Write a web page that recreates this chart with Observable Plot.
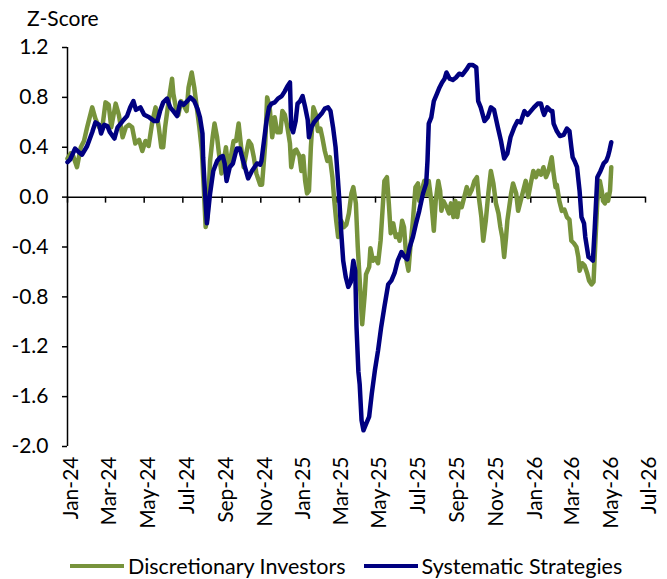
<!DOCTYPE html>
<html><head><meta charset="utf-8">
<script src="https://cdn.jsdelivr.net/npm/d3@7"></script>
<script src="https://cdn.jsdelivr.net/npm/@observablehq/plot@0.6"></script>
<style>
body{margin:0;background:#fff;font-family:Lato,sans-serif;color:#000;}
#title{height:30px;box-sizing:border-box;padding:7px 0 0 27px;font-size:21px;line-height:21px;}
#chart svg{display:block;}
#legend{height:39px;box-sizing:border-box;padding:12px 0 0 70px;display:flex;align-items:center;font-size:21.5px;line-height:22px;}
.item{display:flex;align-items:center;margin-right:18px;}
.sw{width:54px;height:4px;margin-right:4px;}
</style></head><body>
<div id="title">Z-Score</div>
<div id="chart"></div>
<div id="legend"></div>
<script>
const seriesNames = ["Discretionary Investors", "Systematic Strategies"];
const seriesColors = ["#77933C", "#000080"];
const yTicks = [-2.0, -1.6, -1.2, -0.8, -0.4, 0.0, 0.4, 0.8, 1.2];
const xTickLabels = ["Jan-24","Mar-24","May-24","Jul-24","Sep-24","Nov-24","Jan-25","Mar-25","May-25","Jul-25","Sep-25","Nov-25","Jan-26","Mar-26","May-26","Jul-26"];

const discDates = [
"2024-01-01","2024-01-06","2024-01-10","2024-01-16","2024-01-22","2024-01-27",
"2024-02-01","2024-02-09","2024-02-14","2024-02-20","2024-02-25",
"2024-03-01","2024-03-06","2024-03-10","2024-03-17","2024-03-22","2024-03-28",
"2024-04-02","2024-04-07","2024-04-12","2024-04-17","2024-04-23","2024-04-28",
"2024-05-03","2024-05-08","2024-05-14","2024-05-19","2024-05-24","2024-05-28","2024-05-31",
"2024-06-03","2024-06-08","2024-06-14","2024-06-16","2024-06-21","2024-06-24","2024-06-28",
"2024-07-02","2024-07-07","2024-07-10","2024-07-15","2024-07-19","2024-07-23","2024-07-27","2024-07-31",
"2024-08-03","2024-08-06","2024-08-09","2024-08-13","2024-08-17","2024-08-20","2024-08-24","2024-08-27","2024-08-31",
"2024-09-03","2024-09-07","2024-09-11","2024-09-15","2024-09-19","2024-09-23","2024-09-27",
"2024-10-01","2024-10-05","2024-10-09","2024-10-13","2024-10-17","2024-10-21","2024-10-25","2024-10-29","2024-10-31",
"2024-11-03","2024-11-08","2024-11-11","2024-11-15","2024-11-19","2024-11-23","2024-11-27",
"2024-12-02","2024-12-05","2024-12-09","2024-12-13","2024-12-17","2024-12-19","2024-12-24","2024-12-27",
"2025-01-01","2025-01-04","2025-01-07","2025-01-10","2025-01-13","2025-01-16","2025-01-19","2025-01-23","2025-01-27","2025-01-30",
"2025-02-03","2025-02-06","2025-02-10","2025-02-14","2025-02-18","2025-02-22","2025-02-25","2025-02-28",
"2025-03-03","2025-03-08","2025-03-12","2025-03-16","2025-03-20","2025-03-24","2025-03-27","2025-03-31",
"2025-04-03","2025-04-07","2025-04-10","2025-04-14","2025-04-16","2025-04-21","2025-04-23","2025-04-27",
"2025-05-01","2025-05-05","2025-05-09","2025-05-12","2025-05-15","2025-05-19","2025-05-22","2025-05-25","2025-05-29",
"2025-06-02","2025-06-05","2025-06-08","2025-06-12","2025-06-15","2025-06-19","2025-06-22","2025-06-25","2025-06-29",
"2025-07-03","2025-07-07","2025-07-09","2025-07-13","2025-07-17","2025-07-21","2025-07-24","2025-07-28",
"2025-08-01","2025-08-04","2025-08-08","2025-08-11","2025-08-13","2025-08-16","2025-08-21","2025-08-25","2025-08-28",
"2025-09-01","2025-09-04","2025-09-07","2025-09-10","2025-09-14","2025-09-18","2025-09-22","2025-09-26","2025-09-30",
"2025-10-04","2025-10-08","2025-10-11","2025-10-15","2025-10-18","2025-10-22","2025-10-26","2025-10-30",
"2025-11-03","2025-11-07","2025-11-11","2025-11-14","2025-11-17","2025-11-20","2025-11-23","2025-11-25","2025-11-28",
"2025-12-01","2025-12-04","2025-12-09","2025-12-12","2025-12-16","2025-12-20","2025-12-24","2025-12-28",
"2026-01-01","2026-01-05","2026-01-09","2026-01-13","2026-01-17","2026-01-21","2026-01-25","2026-01-29",
"2026-02-03","2026-02-06","2026-02-09","2026-02-11","2026-02-15","2026-02-19","2026-02-23","2026-02-27",
"2026-03-03","2026-03-06","2026-03-10","2026-03-14","2026-03-17","2026-03-19","2026-03-23","2026-03-27","2026-03-31",
"2026-04-03","2026-04-07","2026-04-10","2026-04-13","2026-04-16","2026-04-20","2026-04-23","2026-04-25","2026-04-28",
"2026-05-01","2026-05-03","2026-05-06","2026-05-08"];
const discValues = [
0.31,0.35,0.33,0.24,0.40,0.45,
0.56,0.72,0.63,0.56,0.56,
0.76,0.74,0.56,0.75,0.66,0.48,
0.56,0.58,0.56,0.43,0.46,0.37,
0.45,0.41,0.61,0.72,0.56,0.40,0.40,
0.56,0.75,0.95,0.83,0.69,0.66,0.77,
0.74,0.69,0.88,1.00,0.88,0.72,0.56,0.37,
0.08,-0.24,-0.16,0.29,0.48,0.59,0.48,0.35,0.19,
0.27,0.40,0.21,0.33,0.45,0.45,0.59,
0.40,0.24,0.35,0.45,0.42,0.32,0.19,0.13,0.10,
0.10,0.43,0.80,0.72,0.48,0.64,0.52,
0.52,0.69,0.66,0.56,0.43,0.24,0.37,0.38,
0.33,0.21,0.33,0.13,0.03,0.05,0.40,0.72,0.66,0.53,
0.55,0.48,0.37,0.29,0.32,0.16,-0.03,-0.19,
-0.32,-0.19,-0.24,-0.22,-0.13,0.03,0.08,-0.05,
-0.40,-0.75,-1.02,-0.78,-0.62,-0.56,-0.41,-0.51,
-0.49,-0.53,-0.35,-0.11,0.13,0.16,-0.05,-0.29,-0.21,
-0.32,-0.30,-0.35,-0.19,-0.24,-0.51,-0.59,-0.40,-0.19,
0.08,0.11,-0.03,0.05,0.13,0.02,0.13,-0.03,
-0.27,-0.03,0.13,0.05,-0.11,-0.03,-0.08,-0.13,-0.05,
-0.16,-0.03,-0.16,-0.05,-0.08,0.00,0.08,0.02,0.06,
0.13,0.16,0.00,-0.16,-0.35,-0.19,0.03,0.21,
0.11,-0.05,-0.13,-0.24,-0.32,-0.48,-0.32,-0.19,-0.08,
0.03,0.11,0.03,-0.11,-0.03,0.05,0.13,0.00,
0.11,0.21,0.16,0.21,0.18,0.24,0.16,0.21,
0.32,0.19,0.08,0.10,-0.03,-0.11,-0.10,-0.16,
-0.18,-0.35,-0.37,-0.40,-0.48,-0.59,-0.53,-0.55,-0.61,
-0.67,-0.70,-0.68,-0.35,-0.03,0.13,0.05,-0.03,-0.05,
0.02,-0.03,0.05,0.24];

const sysDates = [
"2024-01-01","2024-01-05","2024-01-13","2024-01-19","2024-01-24",
"2024-02-01","2024-02-09","2024-02-14","2024-02-20","2024-02-23","2024-02-28",
"2024-03-04","2024-03-08","2024-03-15","2024-03-20","2024-03-28",
"2024-04-04","2024-04-09","2024-04-14","2024-04-18","2024-04-25",
"2024-05-01","2024-05-09","2024-05-17","2024-05-22","2024-05-26","2024-05-31",
"2024-06-06","2024-06-11","2024-06-16","2024-06-22","2024-06-27",
"2024-07-02","2024-07-08","2024-07-13","2024-07-19","2024-07-24","2024-07-28",
"2024-08-01","2024-08-02","2024-08-05","2024-08-08","2024-08-13","2024-08-18","2024-08-24","2024-08-29",
"2024-09-02","2024-09-05","2024-09-08","2024-09-13","2024-09-18","2024-09-24","2024-09-29",
"2024-10-02","2024-10-07","2024-10-12","2024-10-18","2024-10-26","2024-10-31",
"2024-11-02","2024-11-06","2024-11-10","2024-11-14","2024-11-18","2024-11-23","2024-11-28",
"2024-12-04","2024-12-09","2024-12-13","2024-12-17","2024-12-19","2024-12-22","2024-12-26","2024-12-29",
"2025-01-02","2025-01-06","2025-01-10","2025-01-14","2025-01-16","2025-01-20","2025-01-24","2025-01-29",
"2025-02-05","2025-02-10","2025-02-15","2025-02-19","2025-02-23","2025-02-27",
"2025-03-02","2025-03-05","2025-03-08","2025-03-11","2025-03-15","2025-03-19","2025-03-23","2025-03-27","2025-03-30",
"2025-04-01","2025-04-04","2025-04-06","2025-04-09","2025-04-12","2025-04-16","2025-04-21","2025-04-25","2025-04-30",
"2025-05-05","2025-05-10","2025-05-15","2025-05-21","2025-05-26","2025-05-31",
"2025-06-05","2025-06-11","2025-06-16","2025-06-20","2025-06-24","2025-06-29",
"2025-07-04","2025-07-09","2025-07-15","2025-07-20","2025-07-22","2025-07-24","2025-07-28",
"2025-08-01","2025-08-06","2025-08-10","2025-08-14","2025-08-18","2025-08-21","2025-08-26","2025-08-31",
"2025-09-05","2025-09-10","2025-09-15","2025-09-21","2025-09-26",
"2025-10-01","2025-10-07","2025-10-10","2025-10-14","2025-10-20","2025-10-25","2025-10-30",
"2025-11-04","2025-11-10","2025-11-15","2025-11-20","2025-11-25","2025-11-30",
"2025-12-06","2025-12-11","2025-12-16","2025-12-22","2025-12-27",
"2026-01-01","2026-01-06","2026-01-12","2026-01-17","2026-01-20","2026-01-22","2026-01-27",
"2026-02-02","2026-02-04","2026-02-06","2026-02-11","2026-02-16","2026-02-22","2026-02-27",
"2026-03-03","2026-03-06","2026-03-08","2026-03-11","2026-03-15","2026-03-19","2026-03-22","2026-03-26","2026-03-28",
"2026-04-02","2026-04-05","2026-04-09","2026-04-12","2026-04-16","2026-04-21","2026-04-26","2026-04-30",
"2026-05-03","2026-05-05","2026-05-08"];
const sysValues = [
0.28,0.30,0.39,0.36,0.34,
0.41,0.52,0.60,0.58,0.51,0.58,
0.57,0.52,0.47,0.56,0.61,
0.65,0.72,0.77,0.70,0.72,
0.66,0.64,0.61,0.61,0.69,0.76,
0.79,0.72,0.69,0.65,0.76,
0.74,0.77,0.80,0.77,0.71,0.64,
0.51,0.32,0.03,-0.21,0.03,0.21,0.29,0.32,
0.33,0.27,0.13,0.24,0.27,0.39,0.39,
0.33,0.24,0.15,0.21,0.27,0.26,
0.29,0.45,0.61,0.72,0.75,0.76,0.79,
0.81,0.85,0.89,0.92,0.56,0.52,0.61,0.75,
0.77,0.81,0.72,0.62,0.48,0.56,0.60,0.63,
0.67,0.71,0.72,0.69,0.56,0.40,
0.19,-0.03,-0.29,-0.51,-0.64,-0.72,-0.68,-0.51,-0.59,
-1.04,-1.40,-1.50,-1.79,-1.87,-1.82,-1.76,-1.58,-1.39,
-1.23,-1.04,-0.88,-0.70,-0.67,-0.61,
-0.51,-0.44,-0.48,-0.50,-0.40,-0.32,
-0.21,-0.11,0.03,0.11,0.29,0.59,0.64,
0.77,0.83,0.88,0.92,0.95,1.00,0.95,0.94,
0.96,0.99,0.98,1.02,1.06,
1.06,1.04,0.77,0.72,0.61,0.64,0.72,
0.70,0.56,0.45,0.31,0.35,0.48,
0.56,0.61,0.60,0.69,0.66,
0.69,0.72,0.75,0.75,0.69,0.66,0.72,
0.69,0.69,0.59,0.53,0.49,0.50,0.55,
0.53,0.40,0.32,0.29,0.24,0.05,-0.16,-0.21,-0.32,
-0.48,-0.49,-0.51,-0.24,0.16,0.21,0.27,0.29,
0.33,0.37,0.44];

const parseDay = d3.utcParse("%Y-%m-%d");
const parseTick = d3.utcParse("%b-%y");
const xTicks = xTickLabels.map(parseTick);
function rows(dates, values, name) {
  return dates.map((d, i) => ({date: parseDay(d), value: values[i], series: name}));
}
const disc = rows(discDates, discValues, seriesNames[0]);
const sys = rows(sysDates, sysValues, seriesNames[1]);

const plot = Plot.plot({
  width: 667, height: 510,
  marginTop: 17, marginBottom: 94, marginLeft: 67, marginRight: 22,
  style: {fontFamily: "Lato, sans-serif", fontSize: "21px", color: "#000", background: "#fff", overflow: "visible"},
  x: {type: "utc", domain: [xTicks[0], xTicks[xTicks.length - 1]]},
  y: {domain: [yTicks[0], yTicks[yTicks.length - 1]]},
  marks: [
    Plot.ruleY([0], {stroke: "#000", strokeWidth: 1.5}),
    Plot.ruleX(xTicks, {x: d => d, y1: 0, y2: 0, insetBottom: -6, stroke: "#000", strokeWidth: 1.5}),
    Plot.ruleX([xTicks[0]], {y1: yTicks[0], y2: yTicks[yTicks.length - 1], stroke: "#000", strokeWidth: 1.5}),
    Plot.axisY({ticks: yTicks, tickFormat: d => d.toFixed(1), tickSize: 5, tickPadding: 14, label: null, strokeWidth: 1.5, fontSize: 21}),
    Plot.axisX({ticks: xTicks, tickFormat: (d, i) => xTickLabels[i], tickRotate: -90, tickSize: 0, tickPadding: 10, dx: 4, label: null, fontSize: 21}),
    Plot.line(disc, {x: "date", y: "value", stroke: seriesColors[0], strokeWidth: 4.5, strokeLinejoin: "round"}),
    Plot.line(sys, {x: "date", y: "value", stroke: seriesColors[1], strokeWidth: 4.5, strokeLinejoin: "round"})
  ]
});
document.getElementById("chart").append(plot);

const legend = document.getElementById("legend");
seriesNames.forEach((n, i) => {
  const it = document.createElement("div"); it.className = "item";
  const sw = document.createElement("div"); sw.className = "sw"; sw.style.background = seriesColors[i];
  const tx = document.createElement("span"); tx.textContent = n;
  it.append(sw, tx); legend.append(it);
});
</script>
</body></html>
